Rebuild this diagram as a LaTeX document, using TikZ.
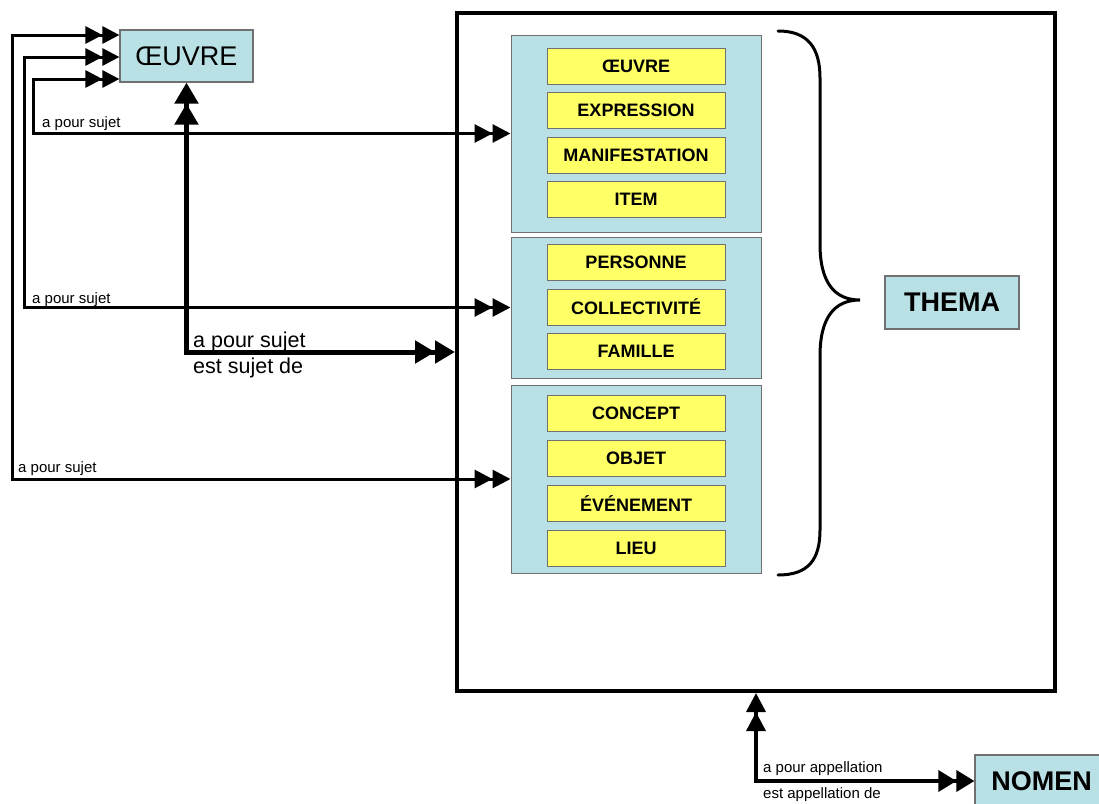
\documentclass[tikz,border=0pt]{standalone}
\usepackage{fontspec}
\setmainfont{Liberation Sans}
\usetikzlibrary{arrows.meta}
\definecolor{boxblue}{HTML}{B9E0E4}
\definecolor{boxyellow}{HTML}{FFFF66}
\definecolor{boxedge}{HTML}{707070}
\begin{document}
\begin{tikzpicture}[x=1pt,y=-1pt,
  bluebox/.style={draw=boxedge, line width=1.2pt, fill=boxblue, inner sep=0pt, minimum width=133pt, minimum height=52pt, font=\fontsize{27}{30}\selectfont\bfseries},
  groupbox/.style={draw=boxedge, line width=1pt, fill=boxblue, minimum width=250pt, inner sep=0pt},
  entity/.style={draw=boxedge, line width=1pt, fill=boxyellow, minimum width=178pt, minimum height=36pt, inner sep=0pt, font=\fontsize{18}{20}\selectfont\bfseries},
  thinlink/.style={line width=3pt, {Triangle[length=17pt,width=17pt]Triangle[length=17pt,width=17pt]}-{Triangle[length=18pt,width=18pt]Triangle[length=18pt,width=18pt]}},
  boldlink/.style={line width=5pt, {Triangle[length=21pt,width=23pt]Triangle[length=21pt,width=23pt]}-{Triangle[length=20pt,width=22pt]Triangle[length=20pt,width=22pt]}},
  namelink/.style={line width=3.5pt, {Triangle[length=19pt,width=19pt]Triangle[length=19pt,width=19pt]}-{Triangle[length=18pt,width=21pt]Triangle[length=18pt,width=21pt]}},
  smalllabel/.style={anchor=base west, inner sep=0pt, font=\fontsize{15}{17}\selectfont},
  biglabel/.style={anchor=base west, inner sep=0pt, font=\fontsize{21.5}{24}\selectfont}]
\useasboundingbox (0,0) rectangle (1099,803);
\fill[white] (0,0) rectangle (1099,803);
\begin{scope}
\clip (0,0) rectangle (1099,803);
% big container
\node[draw, line width=4pt, minimum width=598pt, minimum height=678pt, inner sep=0pt] (big) at (756,352) {};
% groups
\node[groupbox, minimum height=197pt] (g1) at (636,133.5) {};
\node[groupbox, minimum height=141pt] (g2) at (636,307.5) {};
\node[groupbox, minimum height=188pt] (g3) at (636,479) {};
% entities
\node[entity] (e1) at (636,66) {ŒUVRE};
\node[entity] (e2) at (636,110) {EXPRESSION};
\node[entity] (e3) at (636,155) {MANIFESTATION};
\node[entity] (e4) at (636,199) {ITEM};
\node[entity] (e5) at (636,262.5) {PERSONNE};
\node[entity] (e6) at (636,307) {COLLECTIVITÉ};
\node[entity] (e7) at (636,351.5) {FAMILLE};
\node[entity] (e8) at (636,413.5) {CONCEPT};
\node[entity] (e9) at (636,458.5) {OBJET};
\node[entity] (e10) at (636,503.5) {ÉVÉNEMENT};
\node[entity] (e11) at (636,548) {LIEU};
% main boxes
\node[bluebox, font=\fontsize{27}{30}\selectfont] (oe) at (186.5,56) {ŒUVRE};
\node[bluebox, minimum width=134pt, minimum height=53pt] (thema) at (952,302.5) {THEMA};
\node[bluebox] (nomen) at (1041.5,781) {NOMEN};
% brace
\draw[line width=3pt, line cap=round] (778,31) .. controls (808,31) and (820,48) .. (820,78)
  -- (820,244) .. controls (820,282) and (834,300) .. (860,300)
  .. controls (834,300) and (820,318) .. (820,356)
  -- (820,530) .. controls (820,560) and (808,575) .. (778,575);
% connectors
\draw[thinlink] ([yshift=21pt]oe.west) -- (12,35) -- (12,479) -- (g3.west);
\draw[thinlink] ([yshift=-1pt]oe.west) -- (24,57) -- (24,307.5) -- (g2.west);
\draw[thinlink] ([yshift=-23pt]oe.west) -- (33,79) -- (33,133.5) -- (g1.west);
\draw[boldlink] (oe.south) -- (186.5,352) -- (big.west);
\draw[namelink] (big.south) -- (756,781) -- (nomen.west);
% labels
\node[smalllabel] (l1) at (42,127) {a pour sujet};
\node[smalllabel] (l2) at (32,303) {a pour sujet};
\node[smalllabel] (l3) at (18,472) {a pour sujet};
\node[biglabel] (l4) at (193,347) {a pour sujet};
\node[biglabel] (l5) at (193,373) {est sujet de};
\node[smalllabel] (l6) at (763,772) {a pour appellation};
\node[smalllabel] (l7) at (763,798) {est appellation de};
\end{scope}
\end{tikzpicture}
\end{document}
